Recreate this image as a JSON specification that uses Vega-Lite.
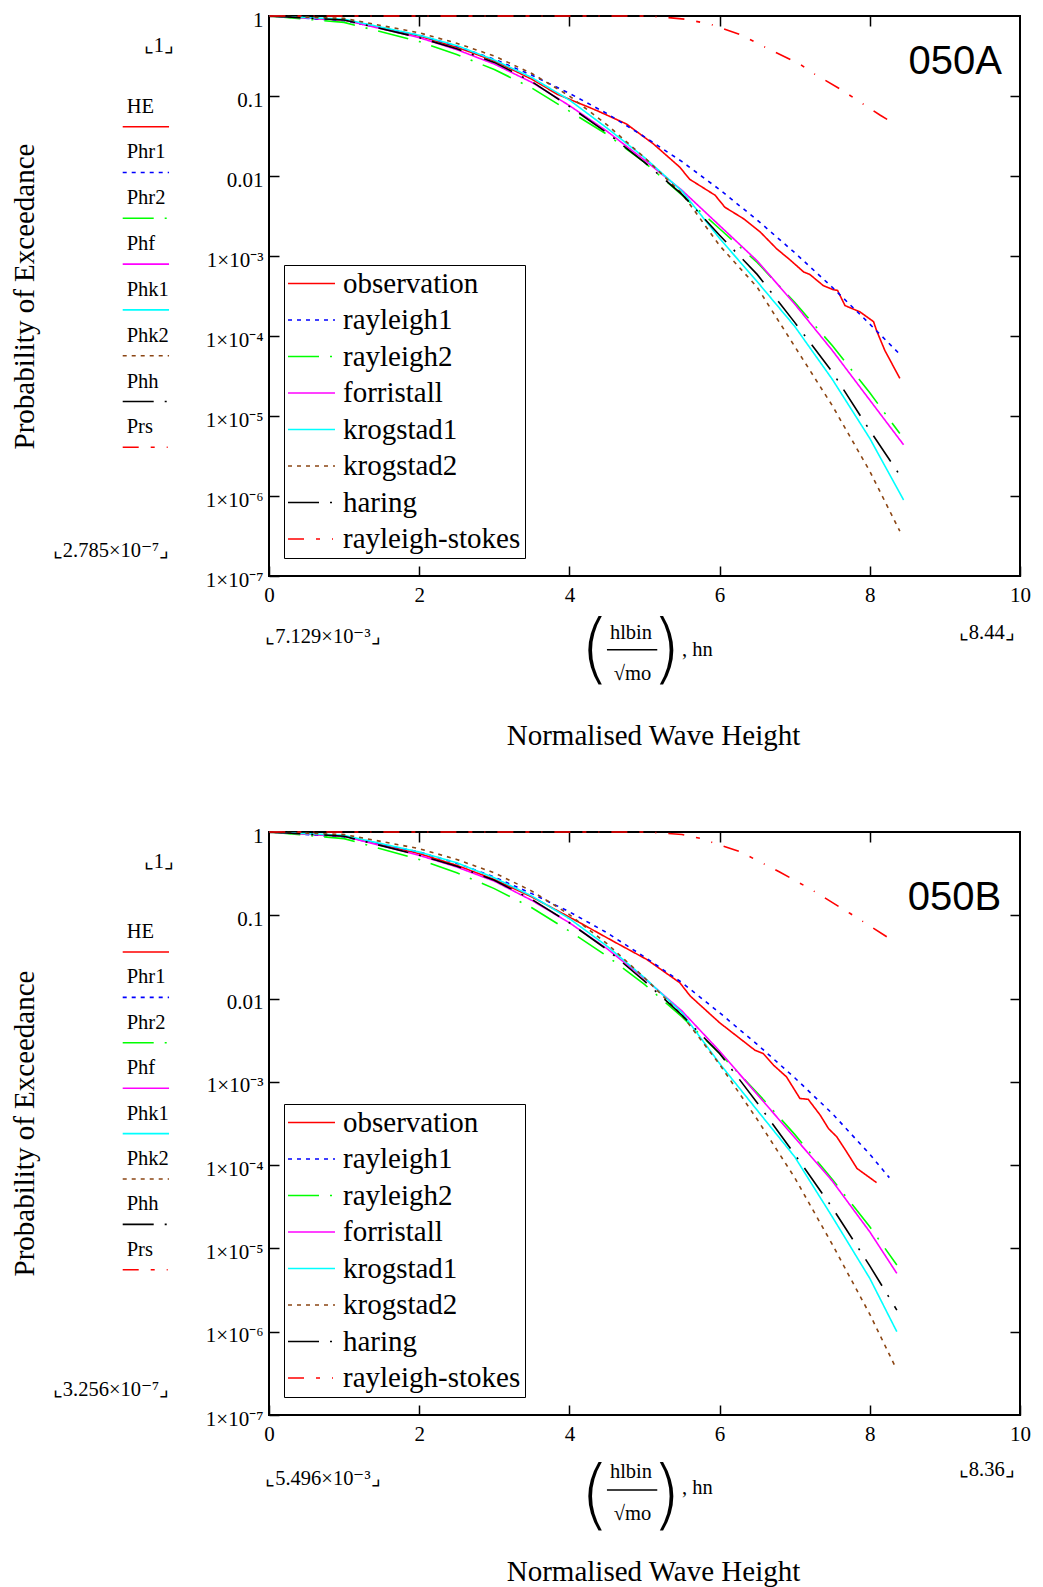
{
 "$schema": "https://vega.github.io/schema/vega-lite/v6.json",
 "padding": {"left": 9, "top": 8, "right": 0, "bottom": 0},
 "background": "white",
 "config": {
  "view": {"stroke": "black", "strokeWidth": 2, "fill": "white"},
  "font": "Liberation Serif",
  "axis": {"grid": false, "domain": false, "tickColor": "black", "tickWidth": 1.5, "labelColor": "black", "labelFont": "Liberation Serif", "titleFont": "Liberation Serif", "titleFontWeight": "normal", "titleColor": "black"},
  "text": {"font": "Liberation Serif", "fontSize": 20.5, "color": "black"}
 },
 "datasets": {
  "codes": [
   {"code": "HE", "series": "observation", "rank": 0},
   {"code": "Phr1", "series": "rayleigh1", "rank": 1},
   {"code": "Phr2", "series": "rayleigh2", "rank": 2},
   {"code": "Phf", "series": "forristall", "rank": 3},
   {"code": "Phk1", "series": "krogstad1", "rank": 4},
   {"code": "Phk2", "series": "krogstad2", "rank": 5},
   {"code": "Phh", "series": "haring", "rank": 6},
   {"code": "Prs", "series": "rayleigh-stokes", "rank": 7}
  ],
  "A": [
   {"series":"observation","h":0.007,"p":1},{"series":"observation","h":1,"p":0.891},{"series":"observation","h":2,"p":0.562},{"series":"observation","h":2.5,"p":0.407},{"series":"observation","h":3,"p":0.275},{"series":"observation","h":3.5,"p":0.162},{"series":"observation","h":3.84,"p":0.105},{"series":"observation","h":4.36,"p":0.0661},{"series":"observation","h":4.76,"p":0.0447},{"series":"observation","h":5.12,"p":0.0251},{"series":"observation","h":5.47,"p":0.0129},{"series":"observation","h":5.6,"p":0.00912},{"series":"observation","h":5.94,"p":0.00575},{"series":"observation","h":6.07,"p":0.00407},{"series":"observation","h":6.32,"p":0.00292},{"series":"observation","h":6.54,"p":0.002},{"series":"observation","h":6.76,"p":0.00123},{"series":"observation","h":6.94,"p":0.000891},{"series":"observation","h":7.12,"p":0.000631},{"series":"observation","h":7.2,"p":0.000589},{"series":"observation","h":7.38,"p":0.000427},{"series":"observation","h":7.51,"p":0.00038},{"series":"observation","h":7.57,"p":0.000372},{"series":"observation","h":7.67,"p":0.00024},{"series":"observation","h":7.87,"p":0.0002},{"series":"observation","h":8.05,"p":0.000151},{"series":"observation","h":8.09,"p":0.000117},{"series":"observation","h":8.2,"p":0.0000661},{"series":"observation","h":8.4,"p":0.0000295},
   {"series":"rayleigh1","h":0.007,"p":1},{"series":"rayleigh1","h":1,"p":0.871},{"series":"rayleigh1","h":2,"p":0.575},{"series":"rayleigh1","h":2.5,"p":0.42},{"series":"rayleigh1","h":3,"p":0.288},{"series":"rayleigh1","h":3.5,"p":0.182},{"series":"rayleigh1","h":4,"p":0.108},{"series":"rayleigh1","h":4.5,"p":0.0603},{"series":"rayleigh1","h":5,"p":0.0309},{"series":"rayleigh1","h":5.5,"p":0.0151},{"series":"rayleigh1","h":6,"p":0.00676},{"series":"rayleigh1","h":6.5,"p":0.00282},{"series":"rayleigh1","h":7,"p":0.0011},{"series":"rayleigh1","h":7.5,"p":0.000407},{"series":"rayleigh1","h":8,"p":0.000141},{"series":"rayleigh1","h":8.38,"p":0.0000617},
   {"series":"rayleigh2","h":0.007,"p":1},{"series":"rayleigh2","h":1,"p":0.832},{"series":"rayleigh2","h":2,"p":0.479},{"series":"rayleigh2","h":2.5,"p":0.331},{"series":"rayleigh2","h":3,"p":0.214},{"series":"rayleigh2","h":3.5,"p":0.126},{"series":"rayleigh2","h":4,"p":0.0646},{"series":"rayleigh2","h":4.5,"p":0.0331},{"series":"rayleigh2","h":5,"p":0.0148},{"series":"rayleigh2","h":5.5,"p":0.00575},{"series":"rayleigh2","h":6,"p":0.00219},{"series":"rayleigh2","h":6.5,"p":0.000832},{"series":"rayleigh2","h":7,"p":0.000263},{"series":"rayleigh2","h":7.5,"p":0.0000759},{"series":"rayleigh2","h":8,"p":0.0000195},{"series":"rayleigh2","h":8.4,"p":0.00000603},
   {"series":"forristall","h":0.007,"p":1},{"series":"forristall","h":1,"p":0.891},{"series":"forristall","h":2,"p":0.537},{"series":"forristall","h":2.5,"p":0.38},{"series":"forristall","h":3,"p":0.251},{"series":"forristall","h":3.5,"p":0.148},{"series":"forristall","h":4,"p":0.0759},{"series":"forristall","h":4.5,"p":0.0363},{"series":"forristall","h":5,"p":0.0158},{"series":"forristall","h":5.5,"p":0.00661},{"series":"forristall","h":6,"p":0.0024},{"series":"forristall","h":6.5,"p":0.000871},{"series":"forristall","h":7,"p":0.000251},{"series":"forristall","h":7.5,"p":0.0000661},{"series":"forristall","h":8,"p":0.0000158},{"series":"forristall","h":8.45,"p":0.00000437},
   {"series":"krogstad1","h":0.007,"p":1},{"series":"krogstad1","h":1,"p":0.912},{"series":"krogstad1","h":2,"p":0.575},{"series":"krogstad1","h":2.5,"p":0.427},{"series":"krogstad1","h":3,"p":0.282},{"series":"krogstad1","h":3.5,"p":0.17},{"series":"krogstad1","h":4,"p":0.0891},{"series":"krogstad1","h":4.5,"p":0.0398},{"series":"krogstad1","h":5,"p":0.017},{"series":"krogstad1","h":5.5,"p":0.00646},{"series":"krogstad1","h":6,"p":0.00166},{"series":"krogstad1","h":6.5,"p":0.000479},{"series":"krogstad1","h":7,"p":0.000132},{"series":"krogstad1","h":7.5,"p":0.0000288},{"series":"krogstad1","h":8,"p":0.00000525},{"series":"krogstad1","h":8.45,"p":0.000000891},
   {"series":"krogstad2","h":0.007,"p":1},{"series":"krogstad2","h":1,"p":0.933},{"series":"krogstad2","h":2,"p":0.617},{"series":"krogstad2","h":2.5,"p":0.457},{"series":"krogstad2","h":3,"p":0.316},{"series":"krogstad2","h":3.5,"p":0.191},{"series":"krogstad2","h":4,"p":0.1},{"series":"krogstad2","h":4.5,"p":0.0437},{"series":"krogstad2","h":5,"p":0.017},{"series":"krogstad2","h":5.5,"p":0.00603},{"series":"krogstad2","h":6,"p":0.00135},{"series":"krogstad2","h":6.5,"p":0.000407},{"series":"krogstad2","h":7,"p":0.0000741},{"series":"krogstad2","h":7.5,"p":0.0000135},{"series":"krogstad2","h":8,"p":0.00000204},{"series":"krogstad2","h":8.4,"p":0.000000363},
   {"series":"haring","h":0.007,"p":1},{"series":"haring","h":1,"p":0.891},{"series":"haring","h":2,"p":0.537},{"series":"haring","h":2.5,"p":0.389},{"series":"haring","h":3,"p":0.263},{"series":"haring","h":3.5,"p":0.151},{"series":"haring","h":4,"p":0.0741},{"series":"haring","h":4.5,"p":0.0347},{"series":"haring","h":5,"p":0.0148},{"series":"haring","h":5.5,"p":0.00589},{"series":"haring","h":6,"p":0.00182},{"series":"haring","h":6.5,"p":0.000589},{"series":"haring","h":7,"p":0.000148},{"series":"haring","h":7.5,"p":0.0000355},{"series":"haring","h":8,"p":0.00000661},{"series":"haring","h":8.4,"p":0.00000182},
   {"series":"rayleigh-stokes","h":0.007,"p":1},{"series":"rayleigh-stokes","h":5,"p":1},{"series":"rayleigh-stokes","h":5.2,"p":0.977},{"series":"rayleigh-stokes","h":5.54,"p":0.912},{"series":"rayleigh-stokes","h":5.87,"p":0.794},{"series":"rayleigh-stokes","h":6.27,"p":0.589},{"series":"rayleigh-stokes","h":6.67,"p":0.38},{"series":"rayleigh-stokes","h":7.07,"p":0.251},{"series":"rayleigh-stokes","h":7.2,"p":0.204},{"series":"rayleigh-stokes","h":7.6,"p":0.123},{"series":"rayleigh-stokes","h":8.14,"p":0.0575},{"series":"rayleigh-stokes","h":8.35,"p":0.0437}
  ],
  "B": [
   {"series":"observation","h":0.005,"p":1},{"series":"observation","h":1,"p":0.891},{"series":"observation","h":2,"p":0.55},{"series":"observation","h":2.5,"p":0.398},{"series":"observation","h":3,"p":0.269},{"series":"observation","h":3.5,"p":0.166},{"series":"observation","h":4.14,"p":0.0813},{"series":"observation","h":4.58,"p":0.049},{"series":"observation","h":5.03,"p":0.0295},{"series":"observation","h":5.47,"p":0.0155},{"series":"observation","h":5.61,"p":0.0107},{"series":"observation","h":6,"p":0.00513},{"series":"observation","h":6.47,"p":0.0024},{"series":"observation","h":6.58,"p":0.00219},{"series":"observation","h":6.72,"p":0.00158},{"series":"observation","h":6.89,"p":0.00115},{"series":"observation","h":7.07,"p":0.000631},{"series":"observation","h":7.18,"p":0.000617},{"series":"observation","h":7.34,"p":0.000398},{"series":"observation","h":7.45,"p":0.000275},{"series":"observation","h":7.56,"p":0.000219},{"series":"observation","h":7.69,"p":0.000145},{"series":"observation","h":7.83,"p":0.0000912},{"series":"observation","h":8.09,"p":0.0000617},
   {"series":"rayleigh1","h":0.005,"p":1},{"series":"rayleigh1","h":1,"p":0.871},{"series":"rayleigh1","h":2,"p":0.575},{"series":"rayleigh1","h":2.5,"p":0.422},{"series":"rayleigh1","h":3,"p":0.288},{"series":"rayleigh1","h":3.5,"p":0.182},{"series":"rayleigh1","h":4,"p":0.11},{"series":"rayleigh1","h":4.5,"p":0.0617},{"series":"rayleigh1","h":5,"p":0.0316},{"series":"rayleigh1","h":5.5,"p":0.0155},{"series":"rayleigh1","h":6,"p":0.00676},{"series":"rayleigh1","h":6.5,"p":0.00282},{"series":"rayleigh1","h":7,"p":0.00112},{"series":"rayleigh1","h":7.5,"p":0.000417},{"series":"rayleigh1","h":8,"p":0.000135},{"series":"rayleigh1","h":8.26,"p":0.0000708},
   {"series":"rayleigh2","h":0.005,"p":1},{"series":"rayleigh2","h":1,"p":0.832},{"series":"rayleigh2","h":2,"p":0.468},{"series":"rayleigh2","h":2.5,"p":0.324},{"series":"rayleigh2","h":3,"p":0.209},{"series":"rayleigh2","h":3.5,"p":0.123},{"series":"rayleigh2","h":4,"p":0.0646},{"series":"rayleigh2","h":4.5,"p":0.0324},{"series":"rayleigh2","h":5,"p":0.0148},{"series":"rayleigh2","h":5.5,"p":0.00603},{"series":"rayleigh2","h":6,"p":0.00219},{"series":"rayleigh2","h":6.5,"p":0.000741},{"series":"rayleigh2","h":7,"p":0.000234},{"series":"rayleigh2","h":7.5,"p":0.0000676},{"series":"rayleigh2","h":8,"p":0.0000182},{"series":"rayleigh2","h":8.36,"p":0.00000631},
   {"series":"forristall","h":0.005,"p":1},{"series":"forristall","h":1,"p":0.891},{"series":"forristall","h":2,"p":0.525},{"series":"forristall","h":2.5,"p":0.38},{"series":"forristall","h":3,"p":0.257},{"series":"forristall","h":3.5,"p":0.151},{"series":"forristall","h":4,"p":0.0813},{"series":"forristall","h":4.5,"p":0.0398},{"series":"forristall","h":5,"p":0.0174},{"series":"forristall","h":5.5,"p":0.00708},{"series":"forristall","h":6,"p":0.00234},{"series":"forristall","h":6.5,"p":0.000708},{"series":"forristall","h":7,"p":0.000214},{"series":"forristall","h":7.5,"p":0.0000646},{"series":"forristall","h":8,"p":0.0000158},{"series":"forristall","h":8.36,"p":0.00000501},
   {"series":"krogstad1","h":0.005,"p":1},{"series":"krogstad1","h":1,"p":0.912},{"series":"krogstad1","h":2,"p":0.575},{"series":"krogstad1","h":2.5,"p":0.427},{"series":"krogstad1","h":3,"p":0.282},{"series":"krogstad1","h":3.5,"p":0.17},{"series":"krogstad1","h":4,"p":0.0912},{"series":"krogstad1","h":4.5,"p":0.0427},{"series":"krogstad1","h":5,"p":0.0178},{"series":"krogstad1","h":5.5,"p":0.00676},{"series":"krogstad1","h":6,"p":0.00166},{"series":"krogstad1","h":6.5,"p":0.000457},{"series":"krogstad1","h":7,"p":0.000126},{"series":"krogstad1","h":7.5,"p":0.000024},{"series":"krogstad1","h":8,"p":0.00000437},{"series":"krogstad1","h":8.36,"p":0.000001},
   {"series":"krogstad2","h":0.005,"p":1},{"series":"krogstad2","h":1,"p":0.933},{"series":"krogstad2","h":2,"p":0.631},{"series":"krogstad2","h":2.5,"p":0.468},{"series":"krogstad2","h":3,"p":0.324},{"series":"krogstad2","h":3.5,"p":0.195},{"series":"krogstad2","h":4,"p":0.102},{"series":"krogstad2","h":4.5,"p":0.0457},{"series":"krogstad2","h":5,"p":0.0178},{"series":"krogstad2","h":5.5,"p":0.00631},{"series":"krogstad2","h":6,"p":0.00162},{"series":"krogstad2","h":6.5,"p":0.000355},{"series":"krogstad2","h":7,"p":0.0000708},{"series":"krogstad2","h":7.5,"p":0.0000112},{"series":"krogstad2","h":8,"p":0.00000162},{"series":"krogstad2","h":8.35,"p":0.000000363},
   {"series":"haring","h":0.005,"p":1},{"series":"haring","h":1,"p":0.891},{"series":"haring","h":2,"p":0.525},{"series":"haring","h":2.5,"p":0.389},{"series":"haring","h":3,"p":0.263},{"series":"haring","h":3.5,"p":0.155},{"series":"haring","h":4,"p":0.0813},{"series":"haring","h":4.5,"p":0.0389},{"series":"haring","h":5,"p":0.0162},{"series":"haring","h":5.5,"p":0.00631},{"series":"haring","h":6,"p":0.00219},{"series":"haring","h":6.5,"p":0.000562},{"series":"haring","h":7,"p":0.000135},{"series":"haring","h":7.5,"p":0.0000309},{"series":"haring","h":8,"p":0.00000617},{"series":"haring","h":8.36,"p":0.00000182},
   {"series":"rayleigh-stokes","h":0.005,"p":1},{"series":"rayleigh-stokes","h":5,"p":1},{"series":"rayleigh-stokes","h":5.2,"p":0.977},{"series":"rayleigh-stokes","h":5.5,"p":0.933},{"series":"rayleigh-stokes","h":5.74,"p":0.839},{"series":"rayleigh-stokes","h":6.27,"p":0.581},{"series":"rayleigh-stokes","h":6.8,"p":0.331},{"series":"rayleigh-stokes","h":7.2,"p":0.209},{"series":"rayleigh-stokes","h":7.74,"p":0.105},{"series":"rayleigh-stokes","h":8.3,"p":0.0501}
  ]
 },
 "spacing": 73,
 "resolve": {"scale": {"color": "independent", "strokeDash": "independent"}},
 "vconcat": [
  {
   "width": 751, "height": 560,
   "layer": [
    {
     "layer": [
      {
       "data": {"name": "A"},
       "mark": {"type": "line", "strokeWidth": 1.6},
       "encoding": {
        "x": {"field": "h", "type": "quantitative", "scale": {"domain": [0, 10], "nice": false, "zero": false},
              "axis": {"orient": "bottom", "values": [0, 2, 4, 6, 8, 10], "tickSize": -10, "labelFontSize": 21, "labelPadding": 18, "labelFlush": false, "labelOverlap": false,
                       "title": "Normalised Wave Height", "titleFontSize": 29, "titleX": 384, "titleY": 159, "titleBaseline": "middle", "titleAlign": "center"}},
        "y": {"field": "p", "type": "quantitative", "scale": {"type": "log", "domain": [0.0000001, 1], "nice": false},
              "axis": {"orient": "left", "values": [1, 0.1, 0.01, 0.001, 0.0001, 0.00001, 0.000001, 0.0000001], "tickSize": -10, "labelFontSize": 21, "labelPadding": 16, "labelOffset": 4, "labelBaseline": "middle", "labelFlush": false, "labelOverlap": false,
                       "labelExpr": "datum.value > 0.5 ? '1' : datum.value > 0.05 ? '0.1' : datum.value > 0.005 ? '0.01' : datum.value > 0.0005 ? '1×10⁻³' : datum.value > 0.00005 ? '1×10⁻⁴' : datum.value > 0.000005 ? '1×10⁻⁵' : datum.value > 0.0000005 ? '1×10⁻⁶' : '1×10⁻⁷'",
                       "title": "Probability of Exceedance", "titleFontSize": 29, "titleX": -245, "titleY": 280, "titleBaseline": "middle", "titleAlign": "center", "titleAngle": -90}},
        "color": {"field": "series", "type": "nominal",
                  "scale": {"domain": ["observation", "rayleigh1", "rayleigh2", "forristall", "krogstad1", "krogstad2", "haring", "rayleigh-stokes"], "range": ["#ff0000", "#0000ff", "#00ff00", "#ff00ff", "#00ffff", "#8b4513", "#000000", "#ff0000"]},
                  "legend": {"orient": "none", "legendX": 15, "legendY": 249, "title": null, "symbolType": "M-2,0H2", "symbolSize": 552, "symbolOffset": 9, "symbolStrokeWidth": 1.6, "labelFont": "Liberation Serif", "labelFontSize": 29, "labelColor": "black", "labelOffset": 17, "labelLimit": 400, "strokeColor": "black", "fillColor": "white", "padding": 4, "rowPadding": 6.5}},
        "strokeDash": {"field": "series", "type": "nominal",
                  "scale": {"domain": ["observation", "rayleigh1", "rayleigh2", "forristall", "krogstad1", "krogstad2", "haring", "rayleigh-stokes"], "range": [[1, 0], [4, 5], [31, 11, 2, 11], [1, 0], [1, 0], [4, 5], [31, 11, 2, 11], [16, 12, 4, 12, 1, 12]]},
                  "legend": {"orient": "none", "legendX": 15, "legendY": 249, "title": null, "symbolType": "M-2,0H2", "symbolSize": 552, "symbolOffset": 9, "symbolStrokeWidth": 1.6, "labelFont": "Liberation Serif", "labelFontSize": 29, "labelColor": "black", "labelOffset": 17, "labelLimit": 400, "strokeColor": "black", "fillColor": "white", "padding": 4, "rowPadding": 6.5}}
       }
      },
      {
       "data": {"values": [{}]},
       "mark": {"type": "text", "align": "right", "baseline": "middle", "font": "Liberation Sans", "fontSize": 40},
       "encoding": {
        "x": {"datum": 9.76, "axis": {"orient": "top", "values": [2, 4, 6, 8], "labels": false, "tickSize": -10, "title": null}},
        "y": {"datum": 0.266, "axis": {"orient": "right", "values": [0.1, 0.01, 0.001, 0.0001, 0.00001, 0.000001], "labels": false, "tickSize": -10, "title": null}},
        "text": {"value": "050A"}
       }
      },
      {"data": {"values": [{}]}, "mark": {"type": "text", "align": "center", "baseline": "middle"}, "encoding": {"x": {"datum": -1.465, "axis": null}, "y": {"datum": 0.42, "axis": null}, "text": {"value": "⌞1⌟"}}},
      {"data": {"values": [{}]}, "mark": {"type": "text", "align": "right", "baseline": "middle"}, "encoding": {"x": {"datum": -1.33, "axis": null}, "y": {"datum": 0.000000203, "axis": null}, "text": {"value": "⌞2.785×10⁻⁷⌟"}}},
      {"data": {"values": [{}]}, "mark": {"type": "text", "align": "left", "baseline": "middle"}, "encoding": {"x": {"datum": -0.05, "axis": null}, "y": {"datum": 0.0000000174, "axis": null}, "text": {"value": "⌞7.129×10⁻³⌟"}}},
      {"data": {"values": [{}]}, "mark": {"type": "text", "align": "right", "baseline": "middle"}, "encoding": {"x": {"datum": 9.93, "axis": null}, "y": {"datum": 0.0000000195, "axis": null}, "text": {"value": "⌞8.44⌟"}}},
      {"data": {"values": [{}]}, "mark": {"type": "text", "align": "center", "baseline": "middle"}, "encoding": {"x": {"datum": 4.82, "axis": null}, "y": {"datum": 0.0000000192, "axis": null}, "text": {"value": "hlbin"}}},
      {"data": {"values": [{}]}, "mark": {"type": "text", "align": "center", "baseline": "middle"}, "encoding": {"x": {"datum": 4.84, "axis": null}, "y": {"datum": 0.00000000595, "axis": null}, "text": {"value": "√mo"}}},
      {"data": {"values": [{}]}, "mark": {"type": "rule", "color": "black", "strokeWidth": 1.5}, "encoding": {"x": {"datum": 4.5, "axis": null}, "x2": {"datum": 5.17}, "y": {"datum": 0.000000012, "axis": null}}},
      {"data": {"values": [{}]}, "mark": {"type": "text", "align": "center", "baseline": "middle", "font": "DejaVu Sans", "fontWeight": 200, "fontSize": 76}, "encoding": {"x": {"datum": 4.34, "axis": null}, "y": {"datum": 0.0000000115, "axis": null}, "text": {"value": "("}}},
      {"data": {"values": [{}]}, "mark": {"type": "text", "align": "center", "baseline": "middle", "font": "DejaVu Sans", "fontWeight": 200, "fontSize": 76}, "encoding": {"x": {"datum": 5.29, "axis": null}, "y": {"datum": 0.0000000115, "axis": null}, "text": {"value": ")"}}},
      {"data": {"values": [{}]}, "mark": {"type": "text", "align": "left", "baseline": "middle"}, "encoding": {"x": {"datum": 5.5, "axis": null}, "y": {"datum": 0.000000012, "axis": null}, "text": {"value": ", hn"}}}
     ],
     "resolve": {"axis": {"x": "independent", "y": "independent"}}
    },
    {
     "data": {"name": "codes"},
     "encoding": {"y": {"field": "rank", "type": "quantitative", "scale": {"domain": [-2.417, 9.81], "reverse": true, "nice": false, "zero": false}, "axis": null}},
     "layer": [
      {"mark": {"type": "rule", "strokeWidth": 1.6}, "encoding": {"x": {"datum": -1.948, "axis": null}, "x2": {"datum": -1.331}, "color": {"field": "series", "type": "nominal", "legend": null}, "strokeDash": {"field": "series", "type": "nominal", "legend": null}}},
      {"mark": {"type": "text", "align": "left", "baseline": "alphabetic", "dy": -14}, "encoding": {"x": {"datum": -1.895, "axis": null}, "text": {"field": "code"}}}
     ]
    }
   ],
   "resolve": {"scale": {"y": "independent"}}
  },
  {
   "width": 751, "height": 583,
   "layer": [
    {
     "layer": [
      {
       "data": {"name": "B"},
       "mark": {"type": "line", "strokeWidth": 1.6},
       "encoding": {
        "x": {"field": "h", "type": "quantitative", "scale": {"domain": [0, 10], "nice": false, "zero": false},
              "axis": {"orient": "bottom", "values": [0, 2, 4, 6, 8, 10], "tickSize": -10, "labelFontSize": 21, "labelPadding": 18, "labelFlush": false, "labelOverlap": false,
                       "title": "Normalised Wave Height", "titleFontSize": 29, "titleX": 384, "titleY": 156, "titleBaseline": "middle", "titleAlign": "center"}},
        "y": {"field": "p", "type": "quantitative", "scale": {"type": "log", "domain": [0.0000001, 1], "nice": false},
              "axis": {"orient": "left", "values": [1, 0.1, 0.01, 0.001, 0.0001, 0.00001, 0.000001, 0.0000001], "tickSize": -10, "labelFontSize": 21, "labelPadding": 16, "labelOffset": 4, "labelBaseline": "middle", "labelFlush": false, "labelOverlap": false,
                       "labelExpr": "datum.value > 0.5 ? '1' : datum.value > 0.05 ? '0.1' : datum.value > 0.005 ? '0.01' : datum.value > 0.0005 ? '1×10⁻³' : datum.value > 0.00005 ? '1×10⁻⁴' : datum.value > 0.000005 ? '1×10⁻⁵' : datum.value > 0.0000005 ? '1×10⁻⁶' : '1×10⁻⁷'",
                       "title": "Probability of Exceedance", "titleFontSize": 29, "titleX": -245, "titleY": 291, "titleBaseline": "middle", "titleAlign": "center", "titleAngle": -90}},
        "color": {"field": "series", "type": "nominal",
                  "scale": {"domain": ["observation", "rayleigh1", "rayleigh2", "forristall", "krogstad1", "krogstad2", "haring", "rayleigh-stokes"], "range": ["#ff0000", "#0000ff", "#00ff00", "#ff00ff", "#00ffff", "#8b4513", "#000000", "#ff0000"]},
                  "legend": {"orient": "none", "legendX": 15, "legendY": 272, "title": null, "symbolType": "M-2,0H2", "symbolSize": 552, "symbolOffset": 9, "symbolStrokeWidth": 1.6, "labelFont": "Liberation Serif", "labelFontSize": 29, "labelColor": "black", "labelOffset": 17, "labelLimit": 400, "strokeColor": "black", "fillColor": "white", "padding": 4, "rowPadding": 6.5}},
        "strokeDash": {"field": "series", "type": "nominal",
                  "scale": {"domain": ["observation", "rayleigh1", "rayleigh2", "forristall", "krogstad1", "krogstad2", "haring", "rayleigh-stokes"], "range": [[1, 0], [4, 5], [31, 11, 2, 11], [1, 0], [1, 0], [4, 5], [31, 11, 2, 11], [16, 12, 4, 12, 1, 12]]},
                  "legend": {"orient": "none", "legendX": 15, "legendY": 272, "title": null, "symbolType": "M-2,0H2", "symbolSize": 552, "symbolOffset": 9, "symbolStrokeWidth": 1.6, "labelFont": "Liberation Serif", "labelFontSize": 29, "labelColor": "black", "labelOffset": 17, "labelLimit": 400, "strokeColor": "black", "fillColor": "white", "padding": 4, "rowPadding": 6.5}}
       }
      },
      {
       "data": {"values": [{}]},
       "mark": {"type": "text", "align": "right", "baseline": "middle", "font": "Liberation Sans", "fontSize": 40},
       "encoding": {
        "x": {"datum": 9.75, "axis": {"orient": "top", "values": [2, 4, 6, 8], "labels": false, "tickSize": -10, "title": null}},
        "y": {"datum": 0.162, "axis": {"orient": "right", "values": [0.1, 0.01, 0.001, 0.0001, 0.00001, 0.000001], "labels": false, "tickSize": -10, "title": null}},
        "text": {"value": "050B"}
       }
      },
      {"data": {"values": [{}]}, "mark": {"type": "text", "align": "center", "baseline": "middle"}, "encoding": {"x": {"datum": -1.465, "axis": null}, "y": {"datum": 0.436, "axis": null}, "text": {"value": "⌞1⌟"}}},
      {"data": {"values": [{}]}, "mark": {"type": "text", "align": "right", "baseline": "middle"}, "encoding": {"x": {"datum": -1.33, "axis": null}, "y": {"datum": 0.0000002, "axis": null}, "text": {"value": "⌞3.256×10⁻⁷⌟"}}},
      {"data": {"values": [{}]}, "mark": {"type": "text", "align": "left", "baseline": "middle"}, "encoding": {"x": {"datum": -0.05, "axis": null}, "y": {"datum": 0.000000017, "axis": null}, "text": {"value": "⌞5.496×10⁻³⌟"}}},
      {"data": {"values": [{}]}, "mark": {"type": "text", "align": "right", "baseline": "middle"}, "encoding": {"x": {"datum": 9.93, "axis": null}, "y": {"datum": 0.000000022, "axis": null}, "text": {"value": "⌞8.36⌟"}}},
      {"data": {"values": [{}]}, "mark": {"type": "text", "align": "center", "baseline": "middle"}, "encoding": {"x": {"datum": 4.82, "axis": null}, "y": {"datum": 0.0000000207, "axis": null}, "text": {"value": "hlbin"}}},
      {"data": {"values": [{}]}, "mark": {"type": "text", "align": "center", "baseline": "middle"}, "encoding": {"x": {"datum": 4.84, "axis": null}, "y": {"datum": 0.0000000065, "axis": null}, "text": {"value": "√mo"}}},
      {"data": {"values": [{}]}, "mark": {"type": "rule", "color": "black", "strokeWidth": 1.5}, "encoding": {"x": {"datum": 4.5, "axis": null}, "x2": {"datum": 5.17}, "y": {"datum": 0.0000000126, "axis": null}}},
      {"data": {"values": [{}]}, "mark": {"type": "text", "align": "center", "baseline": "middle", "font": "DejaVu Sans", "fontWeight": 200, "fontSize": 76}, "encoding": {"x": {"datum": 4.34, "axis": null}, "y": {"datum": 0.0000000105, "axis": null}, "text": {"value": "("}}},
      {"data": {"values": [{}]}, "mark": {"type": "text", "align": "center", "baseline": "middle", "font": "DejaVu Sans", "fontWeight": 200, "fontSize": 76}, "encoding": {"x": {"datum": 5.29, "axis": null}, "y": {"datum": 0.0000000105, "axis": null}, "text": {"value": ")"}}},
      {"data": {"values": [{}]}, "mark": {"type": "text", "align": "left", "baseline": "middle"}, "encoding": {"x": {"datum": 5.5, "axis": null}, "y": {"datum": 0.0000000132, "axis": null}, "text": {"value": ", hn"}}}
     ],
     "resolve": {"axis": {"x": "independent", "y": "independent"}}
    },
    {
     "data": {"name": "codes"},
     "encoding": {"y": {"field": "rank", "type": "quantitative", "scale": {"domain": [-2.643, 10.198], "reverse": true, "nice": false, "zero": false}, "axis": null}},
     "layer": [
      {"mark": {"type": "rule", "strokeWidth": 1.6}, "encoding": {"x": {"datum": -1.948, "axis": null}, "x2": {"datum": -1.331}, "color": {"field": "series", "type": "nominal", "legend": null}, "strokeDash": {"field": "series", "type": "nominal", "legend": null}}},
      {"mark": {"type": "text", "align": "left", "baseline": "alphabetic", "dy": -14}, "encoding": {"x": {"datum": -1.895, "axis": null}, "text": {"field": "code"}}}
     ]
    }
   ],
   "resolve": {"scale": {"y": "independent"}}
  }
 ]
}
